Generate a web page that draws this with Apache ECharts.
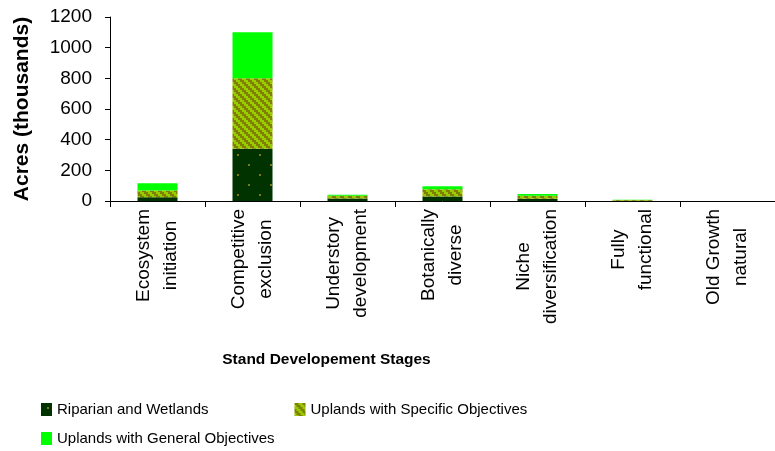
<!DOCTYPE html>
<html>
<head>
<meta charset="utf-8">
<script src="https://cdn.jsdelivr.net/npm/echarts@6/dist/echarts.min.js"></script>
<style>
  html, body { margin: 0; padding: 0; background: #ffffff; }
  #chart { width: 775px; height: 451px; }
</style>
</head>
<body>
<div id="chart"></div>
<script>
// Stand development stages (x categories)
const stages = [
  'Ecosystem\ninitiation',
  'Competitive\nexclusion',
  'Understory\ndevelopment',
  'Botanically\ndiverse',
  'Niche\ndiversification',
  'Fully\nfunctional',
  'Old Growth\nnatural'
];

// Acres (thousands) per land class, stacked
const riparianWetlands = [25, 340, 16, 30, 14, 1, 0];
const uplandsSpecific  = [44, 460, 18, 46, 20, 6, 0];
const uplandsGeneral   = [46, 300, 7, 21, 12, 1, 0];

const seriesNames = [
  'Riparian and Wetlands',
  'Uplands with Specific Objectives',
  'Uplands with General Objectives'
];

const yTicks = { min: 0, max: 1200, interval: 200 };

// Tile helpers for the patterned fills
function makeTile(w, h, paint) {
  const c = document.createElement('canvas');
  c.width = w; c.height = h;
  paint(c.getContext('2d'), w, h);
  return c;
}

// Dark green with sparse olive dots
const dottedGreen = makeTile(22, 20, (ctx, w, h) => {
  ctx.fillStyle = '#003300';
  ctx.fillRect(0, 0, w, h);
  ctx.fillStyle = '#7a7a10';
  ctx.fillRect(6, 4, 2, 2);
  ctx.fillRect(17, 14, 2, 2);
});

// Olive / yellow-green stepped diagonal stripes (2px cells)
const diagonalOlive = makeTile(8, 8, (ctx, w, h) => {
  for (let cy = 0; cy < 4; cy++) {
    for (let cx = 0; cx < 4; cx++) {
      ctx.fillStyle = (((cx - cy) % 4 + 4) % 4) < 2 ? '#808000' : '#99cc00';
      ctx.fillRect(cx * 2, cy * 2, 2, 2);
    }
  }
});

const fills = [
  { image: dottedGreen, repeat: 'repeat' },
  { image: diagonalOlive, repeat: 'repeat' },
  '#00ff00'
];

const textFont = '"Liberation Sans", Arial, sans-serif';
const labelSize = 19;
const labelLine = 27;
const labelGap = 8;

// Each stage name is shown as two rotated lines, one per x axis. Every line is
// centred along its block, and a start-side padding pulls the block up so that
// all blocks begin just under the axis line.
const measureCtx = document.createElement('canvas').getContext('2d');
measureCtx.font = labelSize + 'px "Liberation Sans"';
const stageLines = stages.map(s => s.split('\n'));
const blockWidths = stageLines.map(ls =>
  Math.max.apply(null, ls.map(l => measureCtx.measureText(l).width)));
const labelMargin = labelGap + Math.max.apply(null, blockWidths) / 2 + 2;

function lineItems(lineIdx, vAlign) {
  return stageLines.map((ls, i) => ({
    value: ls[lineIdx] || '',
    textStyle: {
      align: 'center',
      verticalAlign: vAlign,
      fontFamily: textFont,
      fontSize: labelSize,
      lineHeight: labelLine,
      color: '#000',
      padding: [0, 0, 0, 2 * (labelMargin - labelGap) - blockWidths[i]]
    }
  }));
}

function lineAxisLabel(vAlign) {
  return {
    interval: 0,
    rotate: 90,
    align: 'center',
    verticalAlign: vAlign,
    margin: labelMargin,
    color: '#000',
    fontFamily: textFont,
    fontSize: labelSize,
    lineHeight: labelLine,
    hideOverlap: false
  };
}

const chart = echarts.init(document.getElementById('chart'), null, { renderer: 'canvas' });

const seriesData = [riparianWetlands, uplandsSpecific, uplandsGeneral];

const legendText = { fontFamily: textFont, fontSize: 15, color: '#000' };

chart.setOption({
  animation: false,
  backgroundColor: '#ffffff',
  textStyle: { fontFamily: textFont, color: '#000' },
  grid: { left: 110, right: 0, top: 17, bottom: 250, containLabel: false },
  legend: [
    {
      data: seriesNames.slice(0, 2),
      left: 41,
      top: 402,
      padding: 0,
      orient: 'horizontal',
      itemWidth: 11,
      itemHeight: 13,
      itemGap: 86,
      icon: 'rect',
      textStyle: legendText
    },
    {
      data: seriesNames.slice(2),
      left: 41,
      top: 431,
      padding: 0,
      orient: 'horizontal',
      itemWidth: 11,
      itemHeight: 13,
      icon: 'rect',
      textStyle: legendText
    }
  ],
  xAxis: [
    {
      type: 'category',
      position: 'bottom',
      data: lineItems(0, 'bottom'),
      boundaryGap: true,
      name: 'Stand Developement Stages',
      nameLocation: 'middle',
      nameGap: 151,
      nameTextStyle: {
        fontFamily: textFont, fontSize: 15.5, fontWeight: 'bold', color: '#000',
        padding: [0, 232, 0, 0]
      },
      axisLine: { show: true, lineStyle: { color: '#000', width: 1 } },
      axisTick: { show: true, interval: 0, length: 6, lineStyle: { color: '#000' } },
      axisLabel: lineAxisLabel('bottom'),
      splitLine: { show: false }
    },
    {
      type: 'category',
      position: 'bottom',
      offset: 0,
      data: lineItems(1, 'top'),
      boundaryGap: true,
      axisLine: { show: false },
      axisTick: { show: false },
      axisLabel: lineAxisLabel('top'),
      splitLine: { show: false }
    }
  ],
  yAxis: {
    type: 'value',
    min: yTicks.min,
    max: yTicks.max,
    interval: yTicks.interval,
    name: 'Acres (thousands)',
    nameLocation: 'middle',
    nameGap: 77,
    nameTextStyle: { fontFamily: textFont, fontSize: 21, fontWeight: 'bold', color: '#000' },
    axisLine: { show: true, lineStyle: { color: '#000', width: 1 } },
    axisTick: { show: true, length: 5, lineStyle: { color: '#000' } },
    axisLabel: {
      margin: 18, color: '#000', fontFamily: textFont, fontSize: 19,
      formatter: (v) => String(v)
    },
    splitLine: { show: false }
  },
  series: seriesNames.map((name, i) => ({
    name: name,
    type: 'bar',
    stack: 'acres',
    xAxisIndex: 0,
    barWidth: 40,
    data: seriesData[i],
    itemStyle: { color: fills[i] },
    emphasis: { disabled: true }
  }))
});
</script>
</body>
</html>
